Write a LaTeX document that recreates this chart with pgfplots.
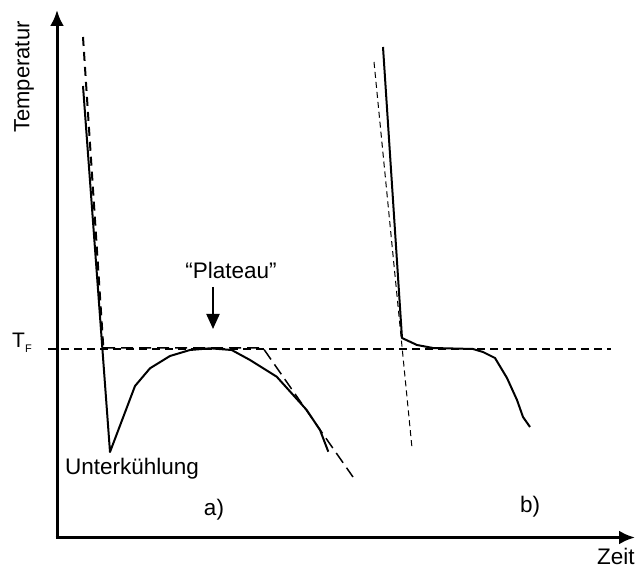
\documentclass[border=0pt]{standalone}
\usepackage{fontspec}
\setmainfont{Liberation Sans}
\usepackage{pgfplots}
\pgfplotsset{compat=1.18}
\usetikzlibrary{arrows.meta}
\begin{document}
\begin{tikzpicture}
\begin{axis}[
 width=638pt, height=569pt, scale only axis,
 xmin=0, xmax=638, ymin=0, ymax=569, y dir=reverse,
 axis line style={draw=none}, xtick=\empty, ytick=\empty, clip=false,
]
% axes
\addplot[line width=3pt, line cap=butt, -{Latex[length=16pt,width=14pt]}] coordinates {(57,539) (57,10)};
\addplot[line width=3pt, line cap=butt, -{Latex[length=16pt,width=14pt]}] coordinates {(55.5,537.5) (635,537.5)};
% T_F line
\addplot[line width=1.5pt, dash pattern=on 8pt off 5pt] coordinates {(48,349) (611,349)};
% a) steep dashed
\addplot[line width=2pt, dash pattern=on 9pt off 6pt] coordinates {(83,37) (103.5,350)};
% a) solid curve
\addplot[line width=2pt, line join=round] coordinates {(83,86) (110,452) (135,386) (150,368.3) (170,356) (190,350) (210,348.3) (231.7,350) (250,360) (276.7,376.7) (306.7,410) (320,430) (328.3,451.7)};
% a) tangent dashed
\addplot[line width=1.5pt, dash pattern=on 12pt off 6pt] coordinates {(103,348) (263,348) (353,477)};
% b) solid curve
\addplot[line width=2pt, line join=round] coordinates {(383,47) (402,338) (417,345) (433,348) (473,349) (483,352) (495,358) (507,378) (517,400) (523,417) (530,427)};
% b) thin dashed
\addplot[line width=1pt, dash pattern=on 6pt off 4pt] coordinates {(374,62) (412,448)};
% Plateau arrow
\addplot[line width=2pt, -{Triangle[length=15pt,width=13pt]}] coordinates {(213,287) (213,329)};
% labels
\node[font=\fontsize{22.5}{26}\selectfont, anchor=base] at (axis cs:231,279) {“Plateau”};
\node[font=\fontsize{22.5}{26}\selectfont, anchor=base west, inner sep=0pt] at (axis cs:65,475) {Unterkühlung};
\node[font=\fontsize{22.5}{26}\selectfont, anchor=base, inner sep=0pt] at (axis cs:214,515) {a)};
\node[font=\fontsize{22.5}{26}\selectfont, anchor=base, inner sep=0pt] at (axis cs:530,513) {b)};
\node[font=\fontsize{22.5}{26}\selectfont, anchor=base west, inner sep=0pt] at (axis cs:597,565) {Zeit};
\node[font=\fontsize{22}{26}\selectfont, rotate=90, anchor=center, inner sep=0pt] at (axis cs:24,77) {Temperatur};
\node[font=\fontsize{21}{24}\selectfont, anchor=base west, inner sep=0pt] at (axis cs:12,348) {T\raisebox{-5pt}{\fontsize{11}{12}\selectfont F}};
\end{axis}
\end{tikzpicture}
\end{document}
